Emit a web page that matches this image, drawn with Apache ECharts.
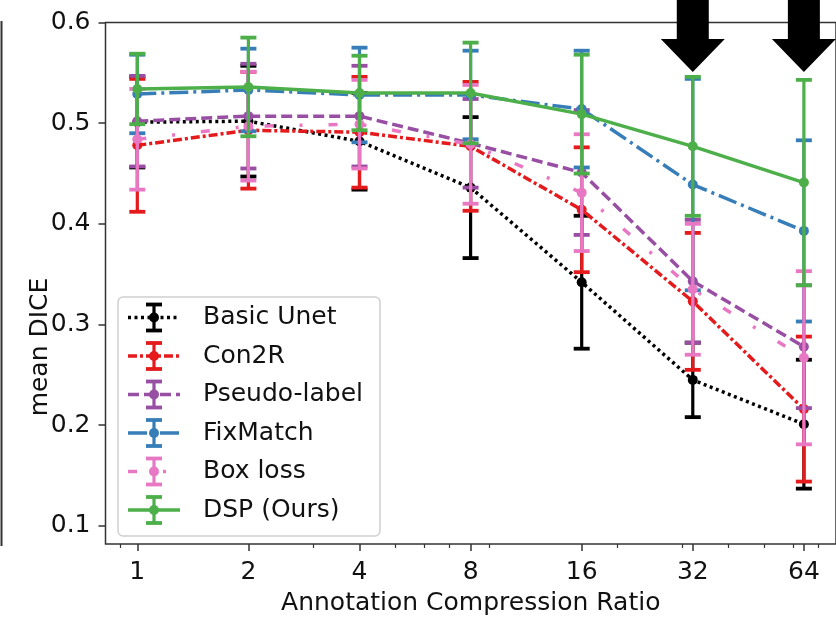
<!DOCTYPE html>
<html><head><meta charset="utf-8">
<script src="https://cdn.jsdelivr.net/npm/echarts@6/dist/echarts.min.js"></script>
<style>html,body{margin:0;padding:0;background:#fff}#c{width:836px;height:621px}</style>
</head><body><div id="c"></div>
<script>
// ---- data ----
const ratios = [1, 2, 4, 8, 16, 32, 64];
const seriesNames = ['Basic Unet', 'Con2R', 'Pseudo-label', 'FixMatch', 'Box loss', 'DSP (Ours)'];
const unetMean   = [0.501, 0.502, 0.482, 0.436, 0.342, 0.245, 0.201];
const unetErr    = [0.045, 0.055, 0.048, 0.070, 0.066, 0.037, 0.064];
const con2rMean  = [0.478, 0.493, 0.491, 0.477, 0.414, 0.323, 0.216];
const con2rErr   = [0.066, 0.058, 0.055, 0.064, 0.062, 0.068, 0.072];
const pseudoMean = [0.502, 0.507, 0.507, 0.480, 0.451, 0.343, 0.278];
const pseudoErr  = [0.045, 0.052, 0.050, 0.044, 0.062, 0.061, 0.061];
const fixMean    = [0.529, 0.533, 0.528, 0.528, 0.514, 0.439, 0.393];
const fixErr     = [0.039, 0.041, 0.047, 0.044, 0.058, 0.105, 0.090];
const boxMean    = [0.484, 0.497, 0.499, 0.479, 0.431, 0.335, 0.267];
const boxErr     = [0.050, 0.054, 0.044, 0.059, 0.058, 0.065, 0.086];
const dspMean    = [0.534, 0.536, 0.530, 0.530, 0.509, 0.477, 0.441];
const dspErr     = [0.035, 0.049, 0.037, 0.050, 0.059, 0.069, 0.102];
const yTicks = [0.1, 0.2, 0.3, 0.4, 0.5, 0.6];
const xMinorTicks = [0.9, 3, 5, 6, 7, 9, 20, 30, 40, 50, 60, 70];
const arrowAt = [32, 64];

// ---- styles ----
const means = [unetMean, con2rMean, pseudoMean, fixMean, boxMean, dspMean];
const errs = [unetErr, con2rErr, pseudoErr, fixErr, boxErr, dspErr];
const colors = ['#000000', '#e41a1c', '#984ea3', '#377eb8', '#e878c4', '#4daf4a'];
const dashes = [[3, 3.5], [9, 3, 3, 3], [11, 5], [19, 5, 3, 5], [9, 26, 3, 26], 'solid'];
const FONT = 'DejaVu Sans';
const FS = 25;

const chart = echarts.init(document.getElementById('c'), null, {renderer: 'canvas'});

function renderErr(params, api) {
  const x = api.value(0), lo = api.value(1), hi = api.value(2);
  const p1 = api.coord([x, lo]), p2 = api.coord([x, hi]);
  const cw = 8;
  const col = api.visual('color');
  return {type: 'group', children: [
    {type: 'line', shape: {x1: p1[0], y1: p1[1], x2: p2[0], y2: p2[1]}, style: {stroke: col, lineWidth: 3.2}},
    {type: 'line', shape: {x1: p1[0] - cw, y1: p1[1], x2: p1[0] + cw, y2: p1[1]}, style: {stroke: col, lineWidth: 3.8}},
    {type: 'line', shape: {x1: p2[0] - cw, y1: p2[1], x2: p2[0] + cw, y2: p2[1]}, style: {stroke: col, lineWidth: 3.8}}
  ]};
}

const series = [];
seriesNames.forEach((name, i) => {
  series.push({
    type: 'custom', name: name + ' err', renderItem: renderErr, z: 10 + 2 * i,
    itemStyle: {color: colors[i]}, encode: {x: 0, y: [1, 2]}, clip: false,
    data: ratios.map((r, k) => [r, means[i][k] - errs[i][k], means[i][k] + errs[i][k]])
  });
  series.push({
    type: 'line', name: name, z: 11 + 2 * i, symbol: 'circle', symbolSize: 10, showSymbol: true,
    itemStyle: {color: colors[i]},
    lineStyle: {color: colors[i], width: 3.5, type: dashes[i], cap: 'butt'},
    data: ratios.map((r, k) => [r, means[i][k]])
  });
});

// legend drawn as graphics
const legendChildren = [{
  type: 'rect', shape: {x: 118, y: 297, width: 262, height: 239, r: 5},
  style: {fill: 'rgba(255,255,255,0.8)', stroke: '#d0d0d0', lineWidth: 1.5}
}];
seriesNames.forEach((name, i) => {
  const y = 317.5 + 38.5 * i;
  const c = colors[i];
  legendChildren.push(
    {type: 'line', shape: {x1: 128, y1: y, x2: 180, y2: y},
     style: {stroke: c, lineWidth: 3.5, lineDash: dashes[i] === 'solid' ? null : dashes[i]}},
    {type: 'line', shape: {x1: 154, y1: y - 13, x2: 154, y2: y + 13}, style: {stroke: c, lineWidth: 3.2}},
    {type: 'line', shape: {x1: 146, y1: y - 13, x2: 162, y2: y - 13}, style: {stroke: c, lineWidth: 3.8}},
    {type: 'line', shape: {x1: 146, y1: y + 13, x2: 162, y2: y + 13}, style: {stroke: c, lineWidth: 3.8}},
    {type: 'circle', shape: {cx: 154, cy: y, r: 5}, style: {fill: c}},
    {type: 'text', x: 203, y: y, style: {text: name, fontFamily: FONT, fontSize: FS, fill: '#111', verticalAlign: 'middle', align: 'left'}}
  );
});

const option = {
  animation: false,
  backgroundColor: '#fff',
  grid: {left: 105.5, right: -6.5, top: 22.5, bottom: 74.5, show: true, borderColor: '#333', borderWidth: 1.5, containLabel: false},
  xAxis: [{
    type: 'log', logBase: 2, min: 0.82, max: 78.2,
    name: 'Annotation Compression Ratio', nameLocation: 'middle', nameGap: 47,
    nameTextStyle: {fontFamily: FONT, fontSize: FS, color: '#111'},
    axisLine: {show: false}, splitLine: {show: false}, minorTick: {show: false},
    axisTick: {show: true, inside: false, length: 7, lineStyle: {color: '#333', width: 1.5}, customValues: ratios},
    axisLabel: {show: true, margin: 16, fontFamily: FONT, fontSize: FS, color: '#111', customValues: ratios, formatter: v => String(v)}
  }, {
    type: 'log', logBase: 2, min: 0.82, max: 78.2, position: 'bottom',
    axisLine: {show: false}, splitLine: {show: false}, axisLabel: {show: false},
    axisTick: {show: true, inside: false, length: 4, lineStyle: {color: '#333', width: 1.2}, customValues: xMinorTicks}
  }],
  yAxis: {
    type: 'value', min: 0.082, max: 0.6,
    axisLine: {show: false}, splitLine: {show: false},
    axisTick: {show: true, inside: false, length: 7, lineStyle: {color: '#333', width: 1.5}, customValues: yTicks},
    axisLabel: {margin: 15, fontFamily: FONT, fontSize: FS, color: '#111', customValues: yTicks, formatter: v => v.toFixed(1)}
  },
  series: series,
  graphic: [
    {type: 'line', shape: {x1: 1.5, y1: 21, x2: 1.5, y2: 546}, style: {stroke: '#333', lineWidth: 2}},
    {type: 'text', x: 40, y: 347, rotation: Math.PI / 2,
     style: {text: 'mean DICE', fontFamily: FONT, fontSize: FS, fill: '#111', align: 'center', verticalAlign: 'middle'}},
    {type: 'group', children: legendChildren, z: 100}
  ]
};
chart.setOption(option);

// arrows placed at data positions
const arrows = arrowAt.map(v => {
  const px = chart.convertToPixel({xAxisIndex: 0}, v);
  const tip = 72;
  return {type: 'polygon', z: 200, shape: {points: [
    [px - 16, -5], [px - 16, tip - 33], [px - 32, tip - 33], [px, tip], [px + 32, tip - 33], [px + 16, tip - 33], [px + 16, -5]
  ]}, style: {fill: '#000'}};
});
chart.setOption({graphic: option.graphic.concat(arrows)});
</script>
</body></html>
